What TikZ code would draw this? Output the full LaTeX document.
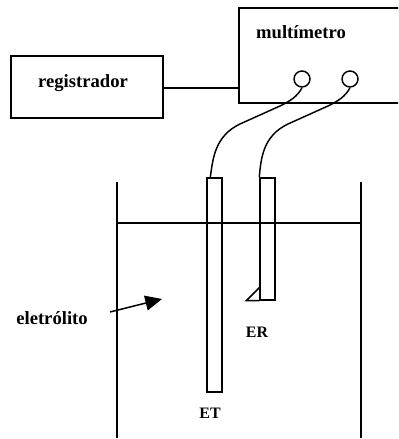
\documentclass[tikz,border=0pt]{standalone}
\usepackage{fontspec}
\setmainfont{Liberation Serif}
\usetikzlibrary{arrows.meta,positioning}

\begin{document}
\begin{tikzpicture}[
    line width=1.25pt,
    device/.style={draw, minimum width=4.56cm, minimum height=1.86cm},
    lab/.style={font=\fontsize{15.9}{18}\selectfont\bfseries, inner sep=0pt},
    small/.style={font=\fontsize{13.6}{16}\selectfont\bfseries, inner sep=0pt},
    terminal/.style={draw, circle, minimum size=0.48cm, inner sep=0pt},
    electrode/.style={draw, minimum width=0.45cm, inner sep=0pt},
    arr/.style={-{Stealth[inset=0pt, length=0.5cm, width=0.45cm]}}
  ]
  \clip (0,0) rectangle (11.94,13.17);
  % Instruments
  \node[device] (reg) at (2.61,10.56) {};
  \node[device, minimum width=5.13cm, minimum height=2.85cm] (mul) at (9.735,11.505) {};
  \node[lab] (regtxt) at (2.49,10.68) {registrador};
  \node[lab] (multxt) at (9.03,12.21) {multímetro};
  \draw (reg.east |- 0,10.53) coordinate (regout) -- (regout -| mul.west);
  % Terminals
  \node[terminal] (ta) at (9.06,10.8) {};
  \node[terminal] (tb) at (10.5,10.8) {};
  % Electrodes
  \node[electrode, minimum height=6.42cm] (et) at (6.435,4.62) {};
  \node[electrode, minimum height=3.66cm] (er) at (8.025,6.0) {};
  \draw (er.south west) -- ++(-0.39,0) -- ++(0.39,0.39);
  \node[small] (ettxt) at (6.3,0.78) {ET};
  \node[small] (ertxt) at (7.71,3.21) {ER};
  % Wires
  \draw (ta.south) .. controls (8.91,10.26) and (8.7,10.14) .. (8.4,9.99)
        -- (7.2,9.45) .. controls (6.45,9.09) and (6.39,8.43) .. ([xshift=0.12cm]et.north west);
  \draw (tb.south) .. controls (10.35,10.26) and (10.14,10.14) .. (9.84,9.99)
        -- (8.64,9.45) .. controls (7.89,9.09) and (7.83,8.43) .. (er.north west);
  % Tank
  \coordinate (tl) at (3.51,7.71);
  \coordinate (tr) at (10.83,7.71);
  \draw (tl) -- (3.51,0.03);
  \draw (tr) -- (10.83,0.03);
  \draw (3.51,6.48) -- (10.83,6.48);
  % Electrolyte label
  \node[lab] (ele) at (1.56,3.63) {eletrólito};
  \coordinate (elea) at (3.3,3.81);
  \coordinate (eleb) at (4.86,4.2);
  \draw[arr] (elea) -- (eleb);
\end{tikzpicture}
\end{document}
